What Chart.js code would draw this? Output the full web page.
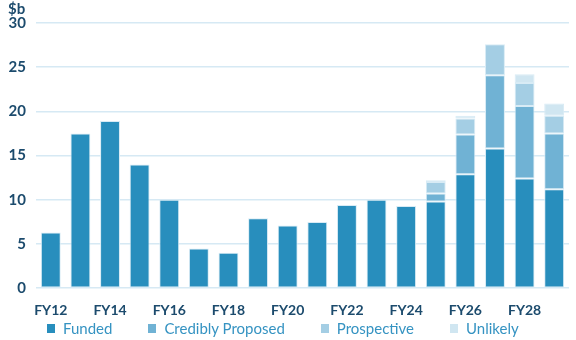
<!DOCTYPE html>
<html>
<head>
<meta charset="utf-8">
<script src="https://cdn.jsdelivr.net/npm/chart.js@4"></script>
<style>
  html, body { margin: 0; padding: 0; background: #fff; }
  #wrap { position: relative; width: 576px; height: 333px; }
  #legend {
    position: absolute; left: 47px; top: 319px;
    display: flex; align-items: center;
    font: 15px Lato, sans-serif; color: #3593c2; line-height: 19px;
  }
  #legend .item { display: flex; align-items: center; margin-right: 36px; }
  #legend .box { width: 8px; height: 9px; margin-right: 8px; }
</style>
</head>
<body>
<div id="wrap"><canvas id="spendChart"></canvas></div>
<div id="legend"></div>
<script>
/* ── Funding outlook by fiscal year, stacked by status ($b) ── */

const YEARS = ['FY12', 'FY13', 'FY14', 'FY15', 'FY16', 'FY17', 'FY18', 'FY19', 'FY20',
               'FY21', 'FY22', 'FY23', 'FY24', 'FY25', 'FY26', 'FY27', 'FY28', 'FY29'];

const FUNDED      = [6.3, 17.5, 18.9, 14.0, 10.0, 4.5, 4.0, 7.9, 7.1,
                     7.5, 9.4, 10.0, 9.3, 9.8, 12.9, 15.8, 12.4, 11.2];
const CREDIBLY    = [0, 0, 0, 0, 0, 0, 0, 0, 0, 0, 0, 0, 0, 0.9, 4.5, 8.3, 8.2, 6.3];
const PROSPECTIVE = [0, 0, 0, 0, 0, 0, 0, 0, 0, 0, 0, 0, 0, 1.3, 1.8, 3.5, 2.6, 2.0];
const UNLIKELY    = [0, 0, 0, 0, 0, 0, 0, 0, 0, 0, 0, 0, 0, 0.2, 0.3, 0, 1.0, 1.4];

const NAVY = '#1c4b6d';
const GRID = '#d6e9f4';

function series(label, data, color) {
  return {
    label, data,
    backgroundColor: color,
    borderColor: '#d8ebf5',
    borderWidth: 1,
    borderSkipped: false,
    barPercentage: 0.84,
    categoryPercentage: 0.8,
  };
}

const chart = new Chart(document.getElementById('spendChart'), {
  type: 'bar',
  data: {
    labels: YEARS,
    datasets: [
      series('Funded', FUNDED, '#288ebd'),
      series('Credibly Proposed', CREDIBLY, '#70b2d4'),
      series('Prospective', PROSPECTIVE, '#a4cee4'),
      series('Unlikely', UNLIKELY, '#d0e6f1'),
    ],
  },
  options: {
    responsive: true,
    maintainAspectRatio: false,
    animation: false,
    layout: { padding: { left: 8, right: 7, top: 0, bottom: 0 } },
    plugins: {
      title: {
        display: true,
        text: '$b',
        align: 'start',
        color: NAVY,
        font: { family: 'Lato', size: 15, weight: 'bold' },
        padding: { top: 0, bottom: 5 },
      },
      legend: { display: false },
      tooltip: { enabled: false },
    },
    scales: {
      x: {
        stacked: true,
        grid: { display: false, drawTicks: false },
        border: { display: false },
        ticks: {
          color: NAVY,
          font: { family: 'Lato', size: 14, weight: 'bold' },
          autoSkip: false,
          maxRotation: 0,
          padding: 14,
          callback: (v, i) => (i % 2 === 0 ? YEARS[i] : ''),
        },
      },
      y: {
        stacked: true,
        min: 0,
        max: 30,
        grid: { color: GRID, lineWidth: 1.5, drawTicks: false },
        border: { display: false },
        afterFit: scale => { scale.width = 28; },
        ticks: {
          stepSize: 5,
          color: NAVY,
          padding: 10,
          font: { family: 'Lato', size: 15, weight: 'bold' },
        },
      },
    },
  },
});

// legend row under the chart, built from the dataset colours
const legendEl = document.getElementById('legend');
chart.data.datasets.forEach(ds => {
  const item = document.createElement('span');
  item.className = 'item';
  const box = document.createElement('span');
  box.className = 'box';
  box.style.background = ds.backgroundColor;
  item.appendChild(box);
  item.appendChild(document.createTextNode(ds.label));
  legendEl.appendChild(item);
});
</script>
</body>
</html>
